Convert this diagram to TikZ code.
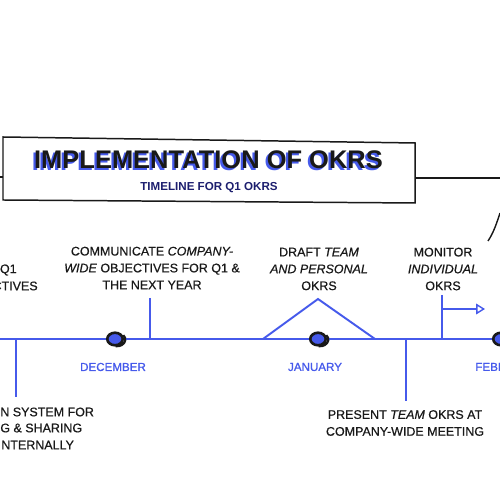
\documentclass[tikz,border=0pt]{standalone}
\usepackage{fontspec}
\setmainfont{Liberation Sans}
\newfontfamily\stepfam{Liberation Sans}[UprightFeatures={FakeBold=0.6}, ItalicFeatures={FakeBold=0.6}]
\newfontfamily\monthfam{Liberation Sans}[UprightFeatures={FakeBold=1.2}]
\usepackage{tikz}
\usetikzlibrary{arrows.meta, calc, positioning, shapes.geometric}
\definecolor{okrblue}{RGB}{70,90,235}
\definecolor{okrnavy}{RGB}{28,30,110}
\definecolor{okrink}{RGB}{25,25,25}
\newcommand{\stepfont}{\stepfam\fontsize{7.1}{9.6}\selectfont}
\newcommand{\monthfont}{\monthfam\fontsize{6.6}{8}\selectfont}

\begin{document}
\begin{tikzpicture}[
    tline/.style={okrblue, line width=1.1pt},
    steptext/.style={okrink, font=\stepfont, align=center, inner sep=0pt},
    monthlabel/.style={okrblue, font=\monthfont, inner sep=0pt},
    monthdot/.style={ellipse, draw=okrink, fill=okrblue, line width=1.5pt,
        minimum width=0.31cm, minimum height=0.25cm, inner sep=0pt}]
    \useasboundingbox (0,0) rectangle (10,10);
    \clip (0,0) rectangle (10,10);

    % Title box
    \coordinate (box nw) at (0.06,7.26);
    \coordinate (box ne) at (8.30,7.14);
    \coordinate (box se) at (8.30,5.94);
    \coordinate (box sw) at (0.06,6.00);
    \draw[okrink, line width=0.85pt] (box nw) -- (box ne) -- (box se) -- (box sw) -- cycle;
    \coordinate (box left) at (0.06,6.46);
    \coordinate (box right) at (8.30,6.44);
    \coordinate (edge left) at (0,6.46);
    \coordinate (edge right) at (10,6.44);
    \draw[okrink, line width=0.7pt] (edge left) -- (box left);
    \draw[okrink, line width=0.7pt] (box right) -- (edge right);

    \node[okrblue, font=\fontsize{14.5}{16}\selectfont\bfseries] (title shadow) at (4.125,6.765) {IMPLEMENTATION OF OKRS};
    \node[okrink, font=\fontsize{14.5}{16}\selectfont\bfseries] (title) at (4.17,6.80) {IMPLEMENTATION OF OKRS};
    \node[okrnavy, font=\fontsize{6.6}{8}\selectfont\bfseries] (subtitle) at (4.18,6.24) {TIMELINE FOR Q1 OKRS};

    % Curve, top right
    \coordinate (curve a) at (9.76,5.18);
    \coordinate (curve b) at (10,5.74);
    \draw[okrink, line width=0.8pt] (curve a) .. controls (9.88,5.36) and (9.94,5.56) .. (curve b);

    % Timeline
    \coordinate (tl start) at (0,3.22);
    \coordinate (tl end) at (10,3.22);
    \draw[tline] (tl start) -- (tl end);

    % Steps above
    \node[steptext, anchor=east] (q1 a) at (0.34,4.60) {Q1};
    \node[steptext, anchor=east] (q1 b) at (0.76,4.28) {CTIVES};

    \node[steptext] (communicate) at (3.04,4.64)
        {COMMUNICATE \textit{COMPANY-}\\\textit{WIDE} OBJECTIVES FOR Q1 \&\\THE NEXT YEAR};
    \coordinate (communicate tick) at (3.00,4.04);
    \draw[tline] (communicate tick) -- (communicate tick |- tl start);

    \node[steptext] (draft) at (6.38,4.62) {DRAFT \textit{TEAM}\\\textit{AND PERSONAL}\\OKRS};
    \coordinate (draft left) at (5.26,3.22);
    \coordinate (draft top) at (6.36,4.02);
    \coordinate (draft right) at (7.50,3.22);
    \draw[tline] (draft left) -- (draft top) -- (draft right);

    \node[steptext] (monitor) at (8.86,4.62) {MONITOR\\\textit{INDIVIDUAL}\\OKRS};
    \coordinate (monitor tick) at (8.84,4.10);
    \coordinate (monitor arrow) at (8.84,3.82);
    \coordinate (monitor tip) at (9.70,3.82);
    \draw[tline] (monitor tick) -- (monitor tick |- tl start);
    \draw[okrblue, line width=0.8pt, -{Triangle[open, length=5pt, width=6pt]}] (monitor arrow) -- (monitor tip);

    % Steps below
    \node[steptext, anchor=west] (system a) at (0,1.76) {N SYSTEM FOR};
    \node[steptext, anchor=west] (system b) at (0,1.44) {G \& SHARING};
    \node[steptext, anchor=west] (system c) at (0.02,1.10) {NTERNALLY};
    \coordinate (system tick) at (0.32,2.06);
    \draw[tline] (system tick |- tl start) -- (system tick);

    \node[steptext] (present) at (8.10,1.54) {PRESENT \textit{TEAM} OKRS AT\\COMPANY-WIDE MEETING};
    \coordinate (present tick) at (8.12,1.98);
    \draw[tline] (present tick |- tl start) -- (present tick);

    % Months
    \foreach \x/\n in {2.30/dec, 6.36/jan, 10.02/feb} {
        \node[monthdot] (\n) at (\x,3.22) {};
        \draw[okrink, line width=1.3pt] ($(\n.center)+(0.04,-0.01)$) ++(-100:0.165 and 0.135)
            arc[start angle=-100, end angle=40, x radius=0.165, y radius=0.135];
    }
    \node[monthlabel] (dec label) at (2.26,2.66) {DECEMBER};
    \node[monthlabel] (jan label) at (6.30,2.66) {JANUARY};
    \node[monthlabel, anchor=west] (feb label) at (9.50,2.66) {FEBRUARY};
\end{tikzpicture}
\end{document}
